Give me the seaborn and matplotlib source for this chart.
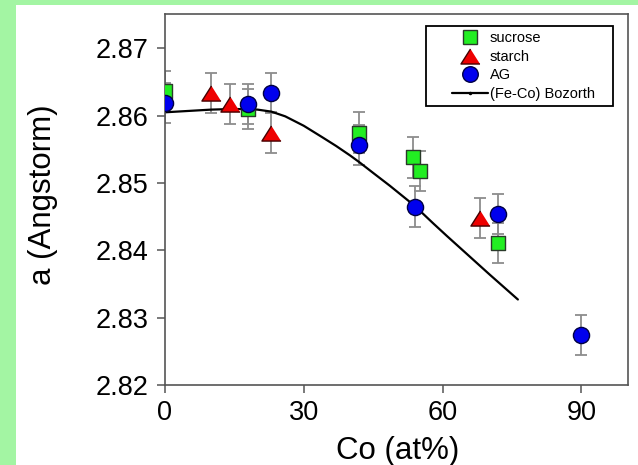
import matplotlib
matplotlib.use("Agg")
import matplotlib.pyplot as plt
import seaborn as sns
import numpy as np
from matplotlib.lines import Line2D
from matplotlib.patches import Rectangle
from matplotlib.ticker import MultipleLocator

# Lattice parameter of Fe-Co particles versus cobalt content
sucrose_x = [0, 18, 42, 53.6, 55.1, 72]
sucrose_y = [2.8636, 2.8610, 2.8575, 2.8538, 2.8518, 2.8411]
sucrose_err = [0.003, 0.003, 0.003, 0.003, 0.003, 0.003]

starch_x = [10, 14, 23, 68]
starch_y = [2.8634, 2.8617, 2.8575, 2.8448]
starch_err = [0.003, 0.003, 0.003, 0.003]

ag_x = [0, 18, 23, 42, 54, 72, 90]
ag_y = [2.8619, 2.8617, 2.8634, 2.8556, 2.8465, 2.8454, 2.8274]
ag_err = [0.003, 0.003, 0.003, 0.003, 0.003, 0.003, 0.003]

# Reference curve for bulk Fe-Co alloys (Bozorth)
bozorth_x = [0, 5, 10, 15, 20, 23, 26, 30, 34, 37, 40, 42, 45, 48.6, 54, 58, 61, 65.2, 70.2, 76.3]
bozorth_y = [2.8605, 2.8607, 2.8609, 2.8610, 2.8609, 2.8606, 2.8599, 2.8585, 2.8568, 2.8555,
             2.8541, 2.8531, 2.8515, 2.8496, 2.8466, 2.8440, 2.8421, 2.8395, 2.8364, 2.8327]

x_ticks = [0, 30, 60, 90]
y_ticks = [2.82, 2.83, 2.84, 2.85, 2.86, 2.87]

sns.set_style("white")
plt.rcParams["font.family"] = ["Liberation Sans", "DejaVu Sans"]
plt.rcParams["text.color"] = "black"
plt.rcParams["axes.labelcolor"] = "black"

W, H = 638, 465
fig = plt.figure(figsize=(W / 100, H / 100), dpi=100)
fig.patch.set_facecolor("white")

# light green page border on the left and top
green = "#a3f5a3"
fig.patches.append(Rectangle((0, 0), 16 / W, 1, transform=fig.transFigure,
                             facecolor=green, edgecolor="none", zorder=0))
fig.patches.append(Rectangle((0, 1 - 5 / H), 1, 5 / H, transform=fig.transFigure,
                             facecolor=green, edgecolor="none", zorder=0))

ax = fig.add_axes([165 / W, 1 - 385 / H, (627.5 - 165) / W, (385 - 14) / H])
ax.set_facecolor("white")

err_kw = dict(fmt="none", ecolor="#8c8c8c", elinewidth=1.3, capsize=4, capthick=1.3, zorder=2)
ax.errorbar(sucrose_x, sucrose_y, yerr=sucrose_err, **err_kw)
ax.errorbar(starch_x, starch_y, yerr=starch_err, **err_kw)
ax.errorbar(ag_x, ag_y, yerr=ag_err, **err_kw)

sns.lineplot(x=bozorth_x, y=bozorth_y, sort=False, estimator=None, color="black",
             linewidth=1.6, ax=ax, zorder=2.5, legend=False)

tri = [(0, 0.79), (-1, -0.79), (1, -0.79)]
sns.scatterplot(x=sucrose_x, y=sucrose_y, marker="s", s=112, color="#22ee22",
                edgecolor="#2a3a2a", linewidth=1.0, ax=ax, zorder=3, legend=False)
sns.scatterplot(x=starch_x, y=starch_y, marker=tri, s=190, color="#ee0000",
                edgecolor="#440000", linewidth=1.0, ax=ax, zorder=3, legend=False)
sns.scatterplot(x=ag_x, y=ag_y, marker="o", s=135, color="#0000ee",
                edgecolor="#000044", linewidth=1.0, ax=ax, zorder=3.2, legend=False)

ax.set_xlim(0, 100)
ax.set_ylim(2.82, 2.8751)
ax.set_xticks(x_ticks)
ax.set_yticks(y_ticks)
ax.set_yticklabels([f"{v:.2f}" for v in y_ticks])
ax.xaxis.set_minor_locator(MultipleLocator(15))
ax.yaxis.set_minor_locator(MultipleLocator(0.005))

spine_c = "#555555"
for sp in ax.spines.values():
    sp.set_color(spine_c)
    sp.set_linewidth(1.2)

ax.tick_params(axis="both", which="major", direction="out", length=6, width=1.1,
               color=spine_c, labelsize=19.5, labelcolor="black")
ax.tick_params(axis="y", which="major", pad=6)
ax.tick_params(axis="x", which="major", pad=5)
ax.tick_params(axis="both", which="minor", direction="out", length=3.5, width=1.1, color=spine_c)
ax.tick_params(left=True, bottom=True, right=False, top=False)

ax.set_xlabel("Co (at%)", fontsize=22.5, color="black")
ax.set_ylabel("a (Angstorm)", fontsize=22.5, color="black")
ax.xaxis.set_label_coords(0.503, -0.138)
ax.yaxis.set_label_coords(-0.232, 0.512)

# legend
handles = [
    Line2D([], [], linestyle="none", marker="s", markersize=10.6, markerfacecolor="#22ee22",
           markeredgecolor="#2a3a2a", markeredgewidth=1.0),
    Line2D([], [], linestyle="none", marker=tri, markersize=13.7, markerfacecolor="#ee0000",
           markeredgecolor="#440000", markeredgewidth=1.0),
    Line2D([], [], linestyle="none", marker="o", markersize=11.2, markerfacecolor="#0000ee",
           markeredgecolor="#000044", markeredgewidth=1.0),
    Line2D([], [], color="black", linewidth=1.6, marker=".", markersize=3),
]
labels = ["sucrose", "starch", "AG", "(Fe-Co) Bozorth"]
ax_w, ax_h = 627.5 - 165, 385 - 14
leg = ax.legend(handles, labels, loc="upper left",
                bbox_to_anchor=((452 - 165) / ax_w, 1 - (31 - 14) / ax_h),
                frameon=False, fontsize=10.5, handlelength=2.5, handletextpad=0.1,
                labelspacing=0.32, borderpad=0, borderaxespad=0)
for t in leg.get_texts():
    t.set_color("black")
ax.add_patch(Rectangle(((426 - 165) / ax_w, 1 - (106 - 14) / ax_h), 187 / ax_w, 80 / ax_h,
                       transform=ax.transAxes, facecolor="none", edgecolor="black",
                       linewidth=1.3, zorder=5))

fig.savefig("out.png", dpi=100)
